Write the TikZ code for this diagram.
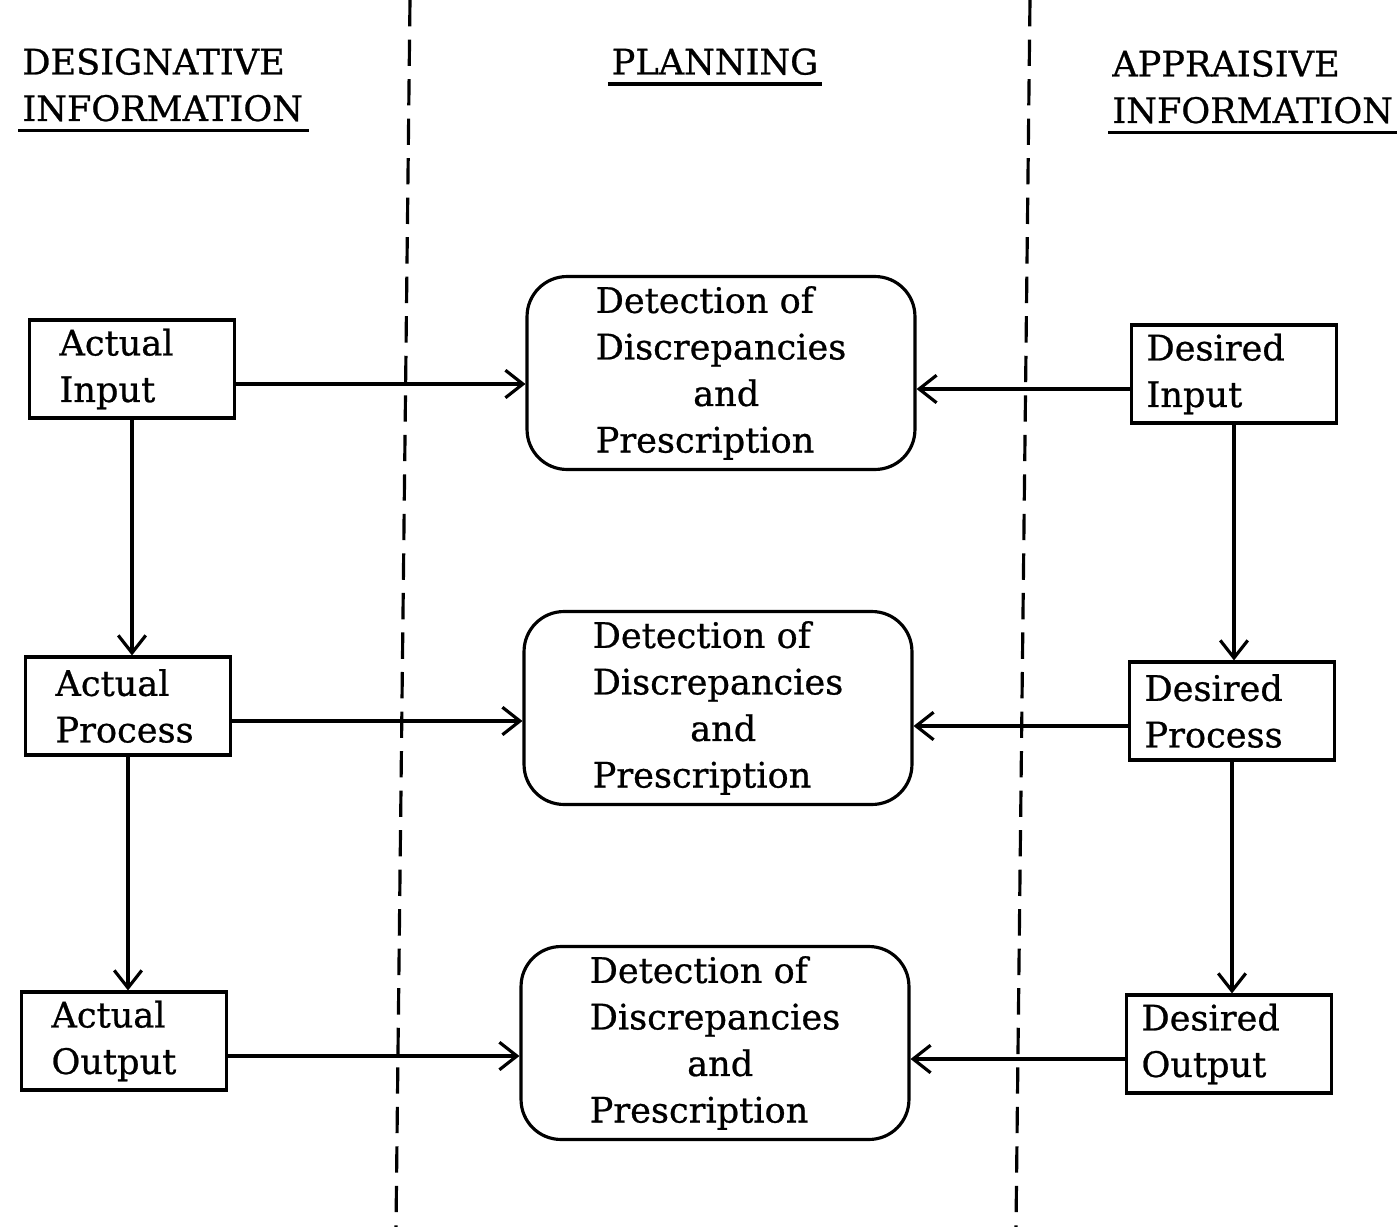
\documentclass[tikz,border=0pt]{standalone}
\usepackage{fontspec}
\setmainfont{DejaVu Serif}[FakeBold=0.7]
\usetikzlibrary{arrows.meta}

\begin{document}
\begin{tikzpicture}[
    x=0.02cm, y=-0.02cm,
    every node/.style={font=\fontsize{20}{26.5}\selectfont},
    head/.style={anchor=north west, inner sep=0pt, align=left},
    box/.style={draw, line width=1.8pt, minimum height=1.96cm, align=left, inner ysep=2pt},
    actual/.style={box, text width=2.9cm, inner xsep=0.6cm},
    desired/.style={box, text width=3.5cm, inner xsep=0.3cm},
    detect/.style={draw, line width=1.8pt, rounded corners=0.8cm, minimum width=7.76cm,
                   minimum height=3.86cm, align=left, inner sep=2pt},
    arr/.style={-{Straight Barb[length=0.35cm, width=0.55cm]}, line width=1.8pt},
    divider/.style={line width=1.8pt, dash pattern=on 15pt off 7.5pt},
    uline/.style={line width=1.8pt}
]
    \useasboundingbox (0,0) rectangle (1397,1227);

    \node[head] (desig) at (22,48) {DESIGNATIVE\\INFORMATION};
    \node[head, anchor=north] (plan) at (715,48) {PLANNING};
    \node[head] (apprai) at (1112,50) {APPRAISIVE\\INFORMATION};
    \draw[uline] ([xshift=-2pt,yshift=-5pt]desig.south west) -- ([xshift=3pt,yshift=-5pt]desig.south east);
    \draw[uline] ([xshift=-2pt,yshift=-5pt]plan.south west) -- ([xshift=2pt,yshift=-5pt]plan.south east);
    \draw[uline] ([xshift=-2pt,yshift=-5pt]apprai.south west) -- ([xshift=2pt,yshift=-5pt]apprai.south east);

    \coordinate (ltop) at (410,0);
    \coordinate (lbot) at (396,1227);
    \coordinate (rtop) at (1030,0);
    \coordinate (rbot) at (1016,1227);
    \draw[divider] (ltop) -- (lbot);
    \draw[divider] (rtop) -- (rbot);

    \node[actual] (ain) at (132,369) {Actual\\Input};
    \node[actual] (apr) at (128,706) {Actual\\Process};
    \node[actual] (aout) at (124,1041) {Actual\\Output};
    \node[desired] (din) at (1234,374) {Desired\\Input};
    \node[desired] (dpr) at (1232,711) {Desired\\Process};
    \node[desired] (dout) at (1229,1044) {Desired\\Output};

    \node[detect] (det1) at (721,373) {Detection of\\Discrepancies\\\hspace*{1.95cm}and\\Prescription};
    \node[detect] (det2) at (718,708) {Detection of\\Discrepancies\\\hspace*{1.95cm}and\\Prescription};
    \node[detect] (det3) at (715,1043) {Detection of\\Discrepancies\\\hspace*{1.95cm}and\\Prescription};

    \draw[arr] (ain.south) -- (ain.south |- apr.north);
    \draw[arr] (apr.south) -- (apr.south |- aout.north);
    \draw[arr] (din.south) -- (din.south |- dpr.north);
    \draw[arr] (dpr.south) -- (dpr.south |- dout.north);

    \draw[arr] ([yshift=-0.3cm]ain.east) -- ([yshift=-0.3cm]ain.east -| det1.west);
    \draw[arr] ([yshift=-0.3cm]apr.east) -- ([yshift=-0.3cm]apr.east -| det2.west);
    \draw[arr] ([yshift=-0.3cm]aout.east) -- ([yshift=-0.3cm]aout.east -| det3.west);
    \draw[arr] ([yshift=-0.3cm]din.west) -- ([yshift=-0.3cm]din.west -| det1.east);
    \draw[arr] ([yshift=-0.3cm]dpr.west) -- ([yshift=-0.3cm]dpr.west -| det2.east);
    \draw[arr] ([yshift=-0.3cm]dout.west) -- ([yshift=-0.3cm]dout.west -| det3.east);
\end{tikzpicture}
\end{document}
